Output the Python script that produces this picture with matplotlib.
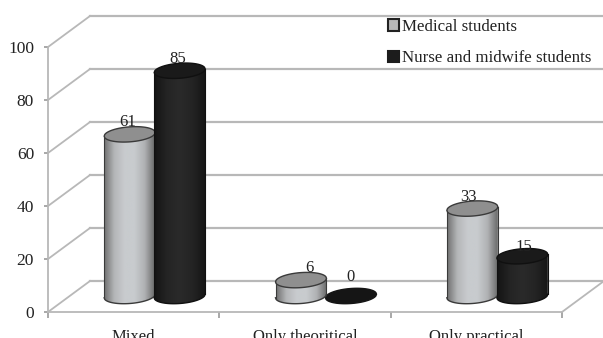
import numpy as np
import matplotlib
matplotlib.use('Agg')
import matplotlib.pyplot as plt
from matplotlib.patches import Patch, Polygon

plt.rcParams['font.family'] = ['Liberation Serif', 'DejaVu Serif']

categories = ['Mixed', 'Only theoritical', 'Only practical']
medical = [61, 6, 33]
nurse = [85, 0, 15]
y_ticks = [0, 20, 40, 60, 80, 100]

W, H = 603, 338
PX_X = 514 / 3    # pixels for one category
PX_Y = 265 / 100  # pixels for one percent

DEPTH_X = 42 / PX_X
DEPTH_Y = 31 / PX_Y
BASE = 16 / PX_Y      # cylinders stand on the middle of the floor
BAR_W = 51 / PX_X
ELL_H = 15 / PX_Y
TILT = 1.8 / PX_Y     # the ellipses lean a little, right side up
GRID = '#b8b8b8'

# small corrections so the value labels sit as in the original
nudge_medical = [(-2, 12), (8, 12), (-4, 12)]
nudge_nurse = [(-2, 12), (0, 19), (2, 9)]

fig = plt.figure(figsize=(W / 100, H / 100), dpi=100)
ax = fig.add_axes([48 / W, 1 - 312 / H, 514 / W, 265 / H])


def draw_cylinder(x, value, shades, top_color, edge):
    xs = np.linspace(-1, 1, 80)
    px = x + xs * BAR_W / 2
    half = ELL_H / 2 * np.sqrt(1 - xs**2)
    lower = BASE - half + TILT * xs
    top_y = BASE + value + TILT * xs
    if value > 0:
        outline = np.column_stack([
            np.concatenate([px, px[::-1]]),
            np.concatenate([lower, top_y[::-1]]),
        ])
        body = Polygon(outline, closed=True, facecolor='none', edgecolor='none')
        ax.add_patch(body)
        cmap = matplotlib.colors.LinearSegmentedColormap.from_list('c', shades)
        im = ax.imshow(np.linspace(0, 1, 128).reshape(1, -1), cmap=cmap,
                       aspect='auto', zorder=3,
                       extent=[x - BAR_W / 2, x + BAR_W / 2,
                               BASE - ELL_H - TILT, BASE + value + TILT])
        im.set_clip_path(body)
        ax.plot(px, lower, color=edge, lw=1, zorder=3, clip_on=False)
        ax.plot([px[0], px[0]], [lower[0], top_y[0]], color=edge, lw=0.8, zorder=3)
        ax.plot([px[-1], px[-1]], [lower[-1], top_y[-1]], color=edge, lw=0.8, zorder=3)
    cap = np.column_stack([
        np.concatenate([px, px[::-1]]),
        np.concatenate([top_y - half, (top_y + half)[::-1]]),
    ])
    ax.add_patch(Polygon(cap, closed=True, facecolor=top_color, edgecolor=edge,
                         lw=1, zorder=3, clip_on=False))


# back wall, side wall and floor
for v in y_ticks:
    ax.plot([DEPTH_X, 3.3], [v + DEPTH_Y, v + DEPTH_Y], color=GRID, lw=1.6,
            zorder=1, clip_on=False)
    ax.plot([0, DEPTH_X], [v, v + DEPTH_Y], color=GRID, lw=1.3, zorder=1,
            clip_on=False)
ax.plot([3, 3 + DEPTH_X], [0, DEPTH_Y], color=GRID, lw=1.3, zorder=1,
        clip_on=False)

gray_shades = ['#707070', '#b4b6b8', '#c8cbce', '#c8cbce', '#b0b2b4', '#6a6a6a']
dark_shades = ['#141414', '#242424', '#2a2a2a', '#242424', '#161616']

centers = np.arange(3) + 0.5 + DEPTH_X / 2
offset = 25 / PX_X

# the flat (zero) cylinders lie under the neighbouring ones
for i in range(3):
    if nurse[i] == 0:
        draw_cylinder(centers[i] + offset, nurse[i], dark_shades, '#151515', '#151515')
for i in range(3):
    draw_cylinder(centers[i] - offset, medical[i], gray_shades, '#8f8f8f', '#3a3a3a')
    if nurse[i] > 0:
        draw_cylinder(centers[i] + offset, nurse[i], dark_shades, '#1a1a1a', '#101010')

for i in range(3):
    for sign, vals, nudge in ((-1, medical, nudge_medical), (1, nurse, nudge_nurse)):
        ax.annotate(str(vals[i]), (centers[i] + sign * offset, BASE + vals[i]),
                    xytext=(nudge[i][0] * 0.72, nudge[i][1] * 0.72),
                    textcoords='offset points', ha='center', va='center',
                    fontsize=12, color='#222222', zorder=5)

ax.set_xlim(0, 3)
ax.set_ylim(0, 100)
ax.set_yticks(y_ticks)
ax.set_xticks([0, 1, 2, 3])
ax.set_xticklabels([])
ax.set_xticks([0.5, 1.5, 2.5], minor=True)
ax.set_xticklabels(categories, minor=True)
ax.tick_params(axis='x', which='minor', length=0, pad=12, labelsize=12,
               labelcolor='#222222')
ax.tick_params(axis='x', which='major', length=4, width=1.2, color='#999999')
ax.tick_params(axis='y', length=3, width=1.2, color='#999999', labelsize=12.5,
               labelcolor='#222222', pad=7)
for name in ('top', 'right'):
    ax.spines[name].set_visible(False)
for name in ('left', 'bottom'):
    ax.spines[name].set_color(GRID)
    ax.spines[name].set_linewidth(1.3)
ax.patch.set_visible(False)

handles = [Patch(facecolor='#b8b8b8', edgecolor='#222222', lw=1.5),
           Patch(facecolor='#1c1c1c', edgecolor='#1c1c1c', lw=1.5)]
fig.legend(handles, ['Medical students', 'Nurse and midwife students'],
           loc='upper left', bbox_to_anchor=(388 / W, 1 - 19 / H), frameon=False,
           fontsize=12.2, labelspacing=0.9, handlelength=0.65, handleheight=0.65,
           handletextpad=0.15, borderpad=0, borderaxespad=0,
           labelcolor='#222222')

fig.savefig('out.png', dpi=100)
